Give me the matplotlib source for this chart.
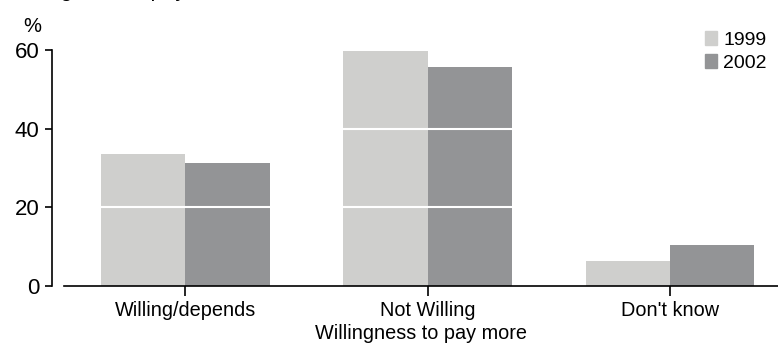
import matplotlib.pyplot as plt
import numpy as np
from matplotlib.patches import Patch

plt.rcParams['font.family'] = ['Liberation Sans', 'DejaVu Sans']

categories = ["Willing/depends", "Not Willing", "Don't know"]
years = ["1999", "2002"]
vals_1999 = [33.6, 59.8, 6.4]
vals_2002 = [31.3, 55.7, 10.4]
yticks = [0, 20, 40, 60]

light = "#cfcfcd"
dark = "#939496"

fig = plt.figure(figsize=(7.78, 3.47), dpi=100)
ax = fig.add_axes([64 / 778, 61 / 347, 714 / 778, 236 / 347])

x = np.arange(len(categories))
w = 0.348
ax.bar(x - w / 2, vals_1999, w, color=light, zorder=1)
ax.bar(x + w / 2, vals_2002, w, color=dark, zorder=1)

# white lines cut through the bars at the gridline levels
for yv in yticks[1:-1]:
    ax.axhline(yv, color="white", lw=1.5, zorder=2)

ax.set_xlim(-0.5, 2.445)
ax.set_ylim(0, 60)
ax.set_xticks(x)
ax.set_xticklabels(categories, fontsize=14.3)
ax.set_yticks(yticks)
ax.tick_params(axis="y", labelsize=16, length=5, width=1.2, pad=4)
ax.tick_params(axis="x", length=7, width=1.2, pad=4)

for s in ["top", "right"]:
    ax.spines[s].set_visible(False)
ax.spines["left"].set_position(("outward", 8.6))
ax.spines["left"].set_bounds(0, 60)
ax.spines["left"].set_linewidth(1.2)
ax.spines["bottom"].set_linewidth(1.2)

ax.set_xlabel("Willingness to pay more", fontsize=14.3, labelpad=3)

fig.text(32 / 778, 1 - 26 / 347, "%", fontsize=14.5, ha="center", va="center")
# chart title sits mostly above the top edge
fig.text(7 / 778, 1 + 4.5 / 347, "Willingness to pay more", fontsize=16,
         ha="left", va="baseline")

handles = [Patch(color=light, label=years[0]), Patch(color=dark, label=years[1])]
fig.legend(handles=handles, loc="upper left",
           bbox_to_anchor=(705 / 778, 1 - 31 / 347), frameon=False,
           fontsize=14, handlelength=0.6, handleheight=0.75,
           handletextpad=0.35, labelspacing=0.25, borderpad=0, borderaxespad=0)

fig.savefig("out.png", dpi=100)
